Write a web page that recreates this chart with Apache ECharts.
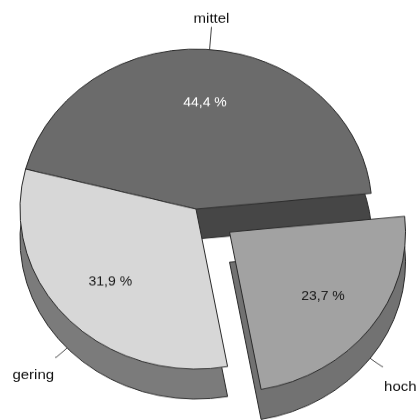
<!DOCTYPE html>
<html><head><meta charset="utf-8">
<script src="https://cdn.jsdelivr.net/npm/echarts@6/dist/echarts.min.js"></script>
<style>
html,body{margin:0;padding:0;background:#fff;overflow:hidden;width:417px;height:420px}
#wrap{width:417px;height:420px;overflow:hidden}
#chart{width:417px;height:462px;transform:scaleY(0.9091);transform-origin:0 0}
</style></head><body><div id="wrap"><div id="chart"></div></div>
<script>
// ---- data ----
const categories = ['mittel', 'hoch', 'gering'];
const values = [44.4, 23.7, 31.9];
const exploded = [false, true, false];

// ---- style ----
const topColors = ['#6b6b6b', '#a2a2a2', '#d7d7d7'];
const sideColors = ['#464646', '#727272', '#7b7b7b'];
const pctColors = ['#ffffff', '#1a1a1a', '#1a1a1a'];
const outerOnTop = [true, false, false];   // which name label hangs on the top face
const labelDrop = [0, 46, 40];             // empty first line that pushes lower names below leader ends
const FONT = '"Liberation Sans", Arial, sans-serif';

const CX = 196, CY = 230, R = 176, DEPTH = 33, START = 165.5, OFFSET = 42;

function fmtPct(v) { return v.toFixed(1).replace('.', ',') + ' %'; }

function centerAbove(params) {
  const pts = params.labelLinePoints;
  if (!pts || pts.length < 2) return {};
  const e = pts[pts.length - 1];
  return { x: e[0], y: e[1] - 1, align: 'center', verticalAlign: 'bottom', labelLinePoints: pts };
}

function buildData(colors, labelFlags, dropped) {
  return categories.map((c, i) => ({
    name: c,
    value: values[i],
    selected: exploded[i],
    itemStyle: { color: colors[i] },
    select: { itemStyle: { color: colors[i] } },
    label: dropped
      ? { show: labelFlags[i], formatter: '{gap|}\n{t|{b}}', rich: { gap: { lineHeight: labelDrop[i], fontSize: 1 } } }
      : { show: labelFlags[i] },
    labelLine: { show: labelFlags[i] }
  }));
}

const common = {
  type: 'pie',
  startAngle: START,
  clockwise: true,
  selectedMode: 'single',
  selectedOffset: OFFSET,
  avoidLabelOverlap: false,
  animation: false,
  emphasis: { disabled: true },
  silent: true
};

const nameText = { fontFamily: FONT, fontSize: 15, color: '#111111' };

const chart = echarts.init(document.getElementById('chart'), null, { renderer: 'canvas' });
chart.setOption({
  backgroundColor: '#ffffff',
  animation: false,
  series: [
    Object.assign({}, common, {
      name: 'side', z: 1,
      center: [CX, CY + DEPTH], radius: R,
      itemStyle: { borderColor: '#2b2b2b', borderWidth: 1 },
      label: Object.assign({ show: true, position: 'outside', distanceToLabelLine: 1,
        rich: { t: Object.assign({ lineHeight: 17 }, nameText) } }, nameText),
      labelLine: { length: 15, length2: 1, lineStyle: { color: '#444444', width: 1 } },
      data: buildData(sideColors, outerOnTop.map(v => !v), true)
    }),
    Object.assign({}, common, {
      name: 'top', z: 2,
      center: [CX, CY], radius: R,
      itemStyle: { borderColor: '#2b2b2b', borderWidth: 1 },
      label: Object.assign({ show: true, position: 'outside', formatter: '{b}' }, nameText),
      labelLine: { length: 25, length2: 0, lineStyle: { color: '#444444', width: 1 } },
      labelLayout: centerAbove,
      data: buildData(topColors, outerOnTop, false)
    }),
    Object.assign({}, common, {
      name: 'pct', z: 3,
      center: [CX, CY], radius: [52, R],
      itemStyle: { color: 'rgba(0,0,0,0)', borderWidth: 0 },
      label: {
        show: true, position: 'inside', fontFamily: FONT, fontSize: 14,
        formatter: p => fmtPct(p.value)
      },
      labelLine: { show: false },
      data: categories.map((c, i) => ({
        name: c, value: values[i], selected: exploded[i],
        itemStyle: { color: 'rgba(0,0,0,0)' },
        select: { itemStyle: { color: 'rgba(0,0,0,0)' } },
        label: { color: pctColors[i] }
      }))
    })
  ]
});
</script></body></html>
